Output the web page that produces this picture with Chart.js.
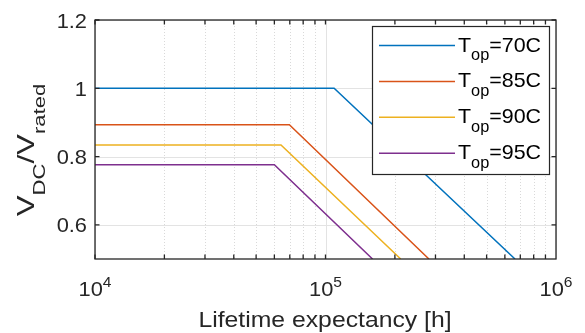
<!DOCTYPE html>
<html>
<head>
<meta charset="utf-8">
<script src="https://cdn.jsdelivr.net/npm/chart.js@4.4.1/dist/chart.umd.min.js"></script>
<style>
  html, body { margin: 0; padding: 0; background: #fff; }
</style>
</head>
<body>
<canvas id="lifetimeChart" width="585" height="333"></canvas>
<script>
// Datos
const temperatures = ['70', '85', '90', '95'];
const lineColors = ['#0072BD', '#D95319', '#EDB120', '#7E2F8E'];
const startHours = [1e4, 1e4, 1e4, 1e4];
const flatLevel = [1.0, 0.893, 0.834, 0.776];
const kneeHours = [1.09e5, 6.97e4, 6.41e4, 6.0e4];
const endHours = [6.64e5, 2.81e5, 2.12e5, 1.6e5];
const endLevel = [0.5, 0.5, 0.5, 0.5];

const yTicks = [0.6, 0.8, 1, 1.2];
const yTickLabels = ['0.6', '0.8', '1', '1.2'];
const xDecades = [4, 5, 6];

const FONT = '"Liberation Sans", Arial, Helvetica, sans-serif';
const AXIS_COLOR = '#262626';

// dibuja texto con subíndices / superíndices (sx estira en horizontal)
function drawRich(ctx, parts, x, y, align, sx) {
  sx = sx || 1;
  let total = 0;
  parts.forEach(p => {
    ctx.font = p.size + 'px ' + FONT;
    p.w = ctx.measureText(p.t).width;
    total += p.w;
  });
  let cx = 0;
  if (align === 'center') cx = -total / 2;
  if (align === 'right') cx = -total;
  ctx.save();
  ctx.translate(x, y);
  ctx.scale(sx, 1);
  ctx.textAlign = 'left';
  ctx.textBaseline = 'alphabetic';
  parts.forEach(p => {
    ctx.font = p.size + 'px ' + FONT;
    ctx.fillText(p.t, cx, p.dy || 0);
    cx += p.w;
  });
  ctx.restore();
}

const matlabAxes = {
  id: 'matlabAxes',
  beforeDatasetsDraw(chart) {
    const ctx = chart.ctx;
    const area = chart.chartArea;
    const xs = chart.scales.x;
    const ys = chart.scales.y;
    ctx.save();
    // rejilla menor punteada
    ctx.strokeStyle = '#d9d9d9';
    ctx.lineWidth = 1;
    ctx.setLineDash([1, 2]);
    for (let d = xDecades[0]; d < xDecades[xDecades.length - 1]; d++) {
      for (let m = 2; m <= 9; m++) {
        const px = Math.round(xs.getPixelForValue(m * Math.pow(10, d))) + 0.5;
        ctx.beginPath();
        ctx.moveTo(px, area.top);
        ctx.lineTo(px, area.bottom);
        ctx.stroke();
      }
    }
    // rejilla mayor
    ctx.setLineDash([]);
    ctx.strokeStyle = '#e3e3e3';
    xDecades.forEach(d => {
      const px = Math.round(xs.getPixelForValue(Math.pow(10, d))) + 0.5;
      ctx.beginPath();
      ctx.moveTo(px, area.top);
      ctx.lineTo(px, area.bottom);
      ctx.stroke();
    });
    yTicks.forEach(v => {
      const py = Math.round(ys.getPixelForValue(v)) + 0.5;
      ctx.beginPath();
      ctx.moveTo(area.left, py);
      ctx.lineTo(area.right, py);
      ctx.stroke();
    });
    ctx.restore();
  },
  afterDatasetsDraw(chart) {
    const ctx = chart.ctx;
    const area = chart.chartArea;
    const xs = chart.scales.x;
    const ys = chart.scales.y;
    ctx.save();
    ctx.strokeStyle = AXIS_COLOR;
    ctx.fillStyle = AXIS_COLOR;
    ctx.lineWidth = 1.3;

    // marcas hacia dentro, en los cuatro lados
    const tickLen = 4.5;
    const xTickVals = [];
    for (let d = xDecades[0]; d < xDecades[xDecades.length - 1]; d++) {
      for (let m = 1; m <= 9; m++) xTickVals.push(m * Math.pow(10, d));
    }
    ctx.beginPath();
    xTickVals.forEach(v => {
      const px = xs.getPixelForValue(v);
      ctx.moveTo(px, area.bottom);
      ctx.lineTo(px, area.bottom - tickLen);
      ctx.moveTo(px, area.top);
      ctx.lineTo(px, area.top + tickLen);
    });
    yTicks.forEach(v => {
      const py = ys.getPixelForValue(v);
      ctx.moveTo(area.left, py);
      ctx.lineTo(area.left + tickLen, py);
      ctx.moveTo(area.right, py);
      ctx.lineTo(area.right - tickLen, py);
    });
    ctx.stroke();

    // caja
    ctx.strokeRect(area.left, area.top, area.right - area.left, area.bottom - area.top);

    // etiquetas de y
    yTicks.forEach((v, i) => {
      const py = ys.getPixelForValue(v);
      drawRich(ctx, [{ t: yTickLabels[i], size: 21 }], area.left - 8, py + 7.5, 'right', 1.04);
    });

    // etiquetas de x (10^n)
    xDecades.forEach(d => {
      const px = xs.getPixelForValue(Math.pow(10, d));
      drawRich(ctx, [
        { t: '10', size: 21 },
        { t: String(d), size: 15, dy: -9 }
      ], px, 296, 'center', 1.04);
    });

    // título x
    drawRich(ctx, [{ t: 'Lifetime expectancy [h]', size: 22.5 }], 325, 327, 'center', 1.1);

    // título y
    ctx.save();
    ctx.translate(34, 150);
    ctx.rotate(-Math.PI / 2);
    drawRich(ctx, [
      { t: 'V', size: 24 },
      { t: 'DC', size: 17, dy: 11 },
      { t: '/V', size: 24 },
      { t: 'rated', size: 17, dy: 11 }
    ], 0, 0, 'center', 1.3);
    ctx.restore();

    // leyenda
    const lg = { left: 372.5, top: 26.5, right: 549.5, bottom: 174.5 };
    ctx.fillStyle = '#ffffff';
    ctx.fillRect(lg.left, lg.top, lg.right - lg.left, lg.bottom - lg.top);
    ctx.strokeStyle = AXIS_COLOR;
    ctx.lineWidth = 1.2;
    ctx.strokeRect(lg.left, lg.top, lg.right - lg.left, lg.bottom - lg.top);
    chart.data.datasets.forEach((ds, i) => {
      const ly = 45.5 + i * 35.9;
      ctx.strokeStyle = ds.borderColor;
      ctx.lineWidth = 1.5;
      ctx.beginPath();
      ctx.moveTo(379, ly);
      ctx.lineTo(455, ly);
      ctx.stroke();
      ctx.fillStyle = '#000000';
      drawRich(ctx, [
        { t: 'T', size: 21 },
        { t: 'op', size: 16, dy: 8.5 },
        { t: '=' + temperatures[i] + 'C', size: 21 }
      ], 458, ly + 6, 'left', 1.02);
    });
    ctx.restore();
  }
};

const datasets = temperatures.map((t, i) => ({
  label: 'T_op=' + t + 'C',
  data: [
    { x: startHours[i], y: flatLevel[i] },
    { x: kneeHours[i], y: flatLevel[i] },
    { x: endHours[i], y: endLevel[i] }
  ],
  borderColor: lineColors[i],
  backgroundColor: lineColors[i],
  borderWidth: 1.5,
  pointRadius: 0,
  tension: 0,
  fill: false
}));

new Chart(document.getElementById('lifetimeChart'), {
  type: 'line',
  data: { datasets: datasets },
  options: {
    responsive: false,
    animation: false,
    layout: { padding: { left: 95, top: 20, right: 29, bottom: 74 } },
    plugins: {
      legend: { display: false },
      tooltip: { enabled: false }
    },
    scales: {
      x: { type: 'logarithmic', min: 1e4, max: 1e6, display: false },
      y: { type: 'linear', min: 0.5, max: 1.2, display: false }
    }
  },
  plugins: [matlabAxes]
});
</script>
</body>
</html>
